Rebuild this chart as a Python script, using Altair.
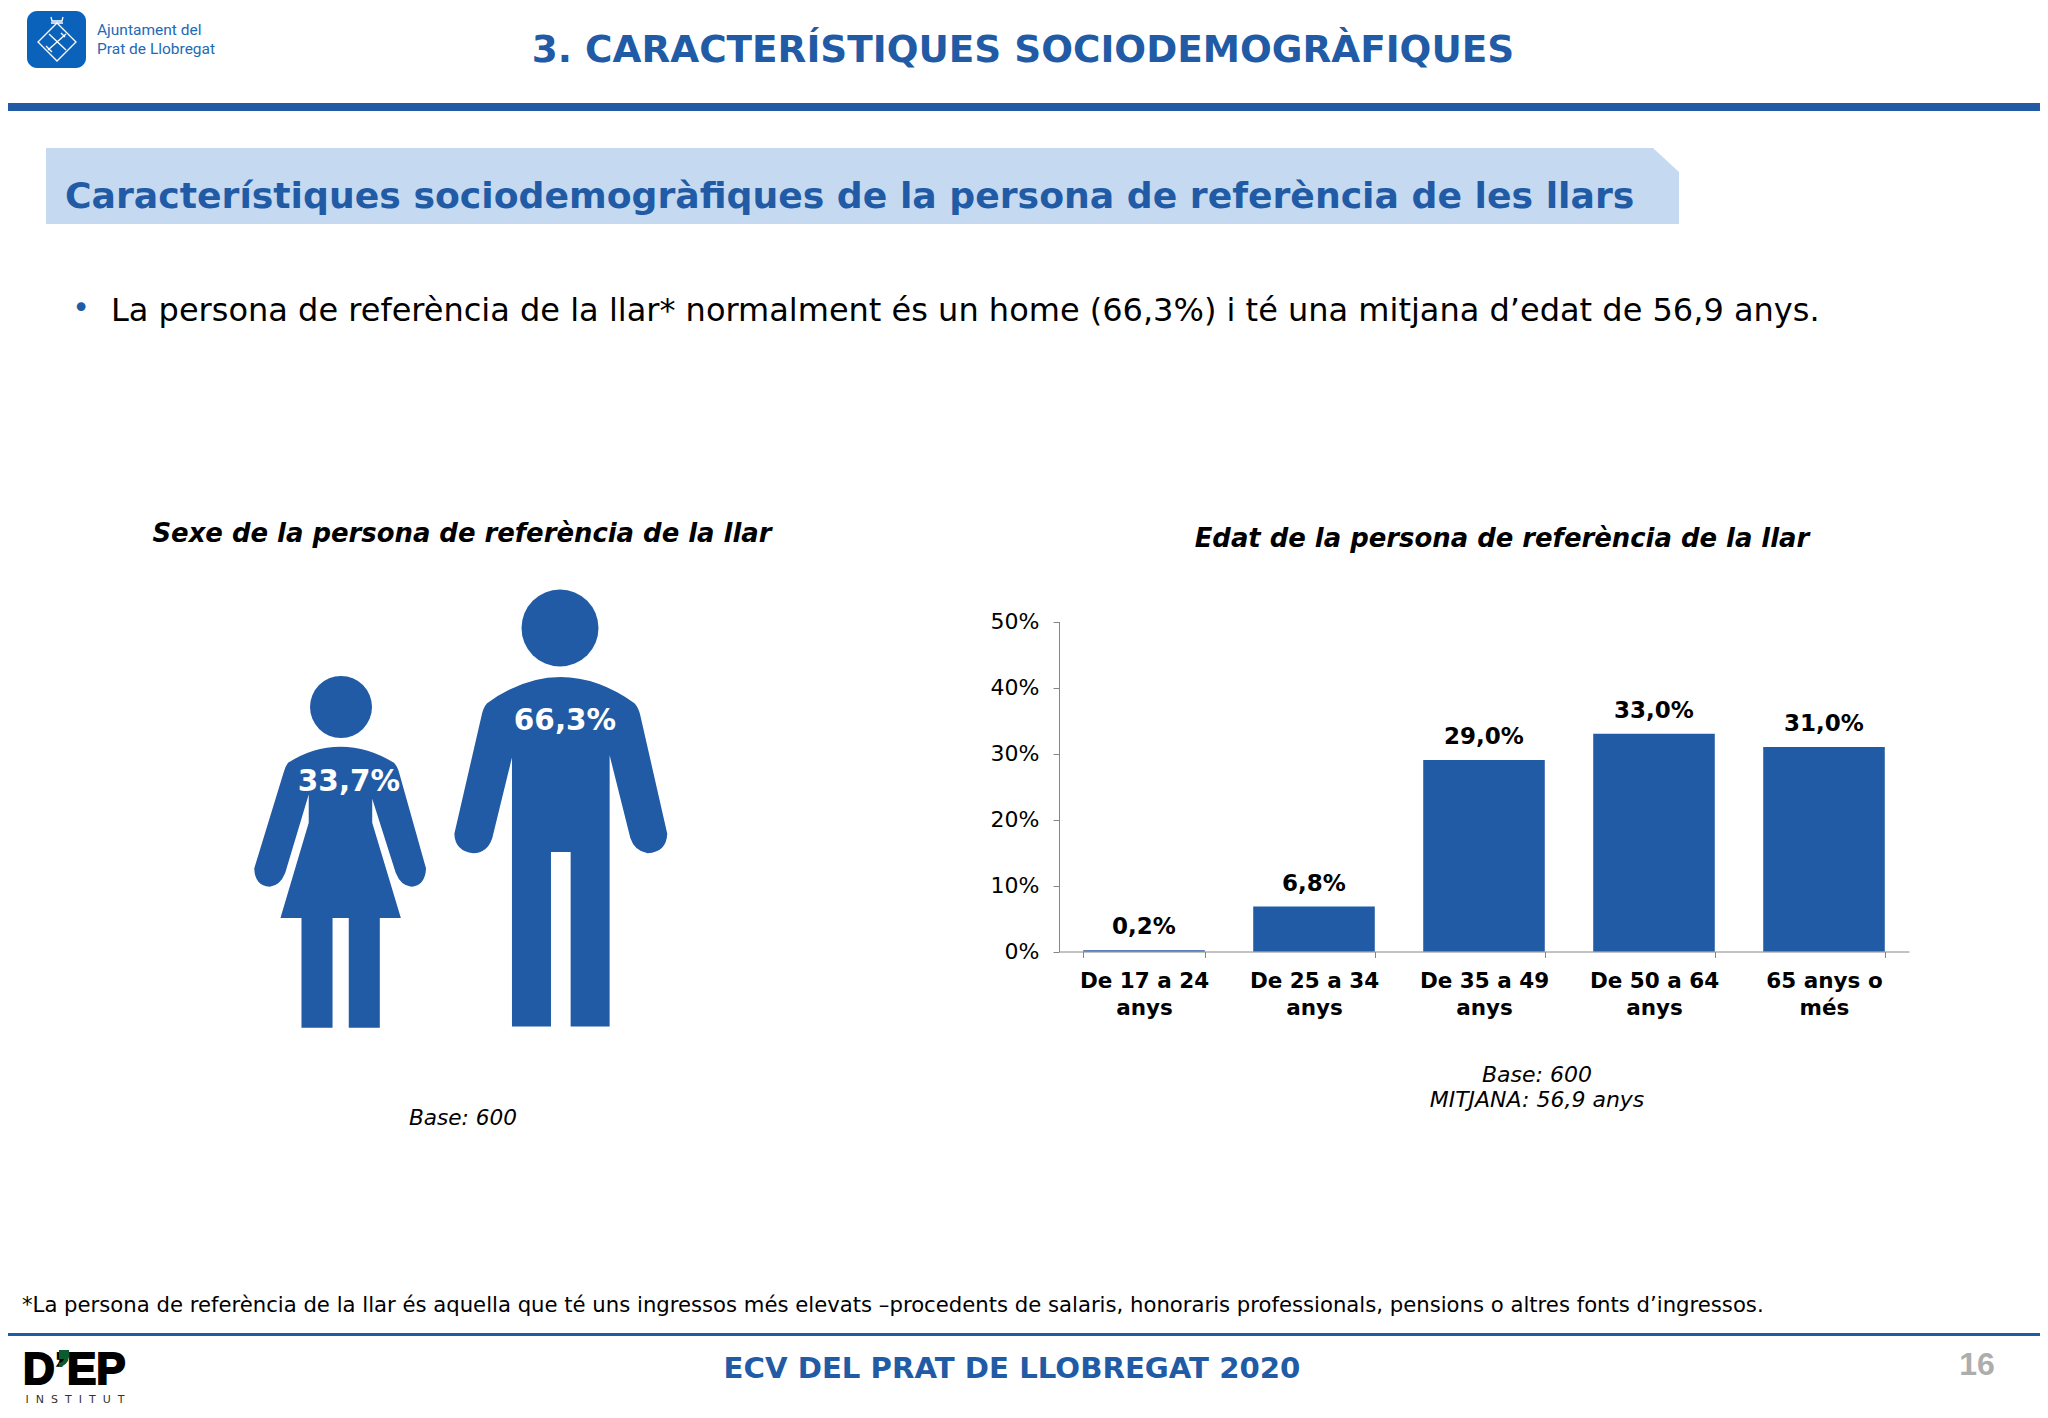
import re
import altair as alt
import pandas as pd

W, H = 2032, 1402
BLUE = "#215BA5"
DV = "DejaVu Sans"

age_groups = ["De 17 a 24 anys", "De 25 a 34 anys", "De 35 a 49 anys", "De 50 a 64 anys", "65 anys o més"]
age_values = [0.2, 6.8, 29.0, 33.0, 31.0]
sex_labels = ["33,7%", "66,3%"]
y_ticks = [0, 10, 20, 30, 40, 50]

TITLE = "3. CARACTERÍSTIQUES SOCIODEMOGRÀFIQUES"
BANNER = "Característiques sociodemogràfiques de la persona de referència de les llars"
BULLET = "La persona de referència de la llar* normalment és un home (66,3%) i té una mitjana d’edat de 56,9 anys."
LEFT_TITLE = "Sexe de la persona de referència de la llar"
RIGHT_TITLE = "Edat de la persona de referència de la llar"
FOOTNOTE = "*La persona de referència de la llar és aquella que té uns ingressos més elevats –procedents de salaris, honoraris professionals, pensions o altres fonts d’ingressos."
FOOTER = "ECV DEL PRAT DE LLOBREGAT 2020"
INSTITUT = "\u00a0\u00a0".join("INSTITUT")

DUMMY = alt.Data(values=[{"k": 0}])


def mapped(path, fx, fy):
    nums = iter(re.findall(r"[A-Za-z]|-?[\d.]+", path))
    out = []
    for tok in nums:
        if tok.isalpha():
            out.append(tok)
        else:
            out.append(f"{fx(float(tok)):.2f} {fy(float(next(nums))):.2f}")
    return " ".join(out)


def page(path):
    return mapped(path, lambda v: v - 8, lambda v: v - 8)


def zoomed(path):
    return mapped(path, lambda v: 199 + v / 2.898 - 8, lambda v: 498.6 + v / 2.298 - 8)


def shape(path, fill=None, stroke=None, sw=0):
    kw = dict(shape=path, size=4, opacity=1)
    if fill:
        kw.update(filled=True, fill=fill, strokeWidth=0)
    else:
        kw.update(filled=False, stroke=stroke, strokeWidth=sw)
    return alt.Chart(DUMMY).mark_point(**kw).encode(x=alt.value(0), y=alt.value(0))


def rect(x0, y0, x1, y1, color, radius=0):
    return alt.Chart(DUMMY).mark_rect(color=color, cornerRadius=radius).encode(
        x=alt.value(x0 - 8), x2=alt.value(x1 - 8), y=alt.value(y0 - 8), y2=alt.value(y1 - 8))


def text(s, x, y, size, color="#000000", font=DV, weight="normal", style="normal", align="center", baseline="middle", **kw):
    return alt.Chart(DUMMY).mark_text(
        text=s, fontSize=size, color=color, font=font, fontWeight=weight, fontStyle=style,
        align=align, baseline=baseline, **kw).encode(x=alt.value(x - 8), y=alt.value(y - 8))


def head(cx, cy, d):
    return alt.Chart(DUMMY).mark_point(shape="circle", size=d * d, filled=True, fill=BLUE, opacity=1, strokeWidth=0).encode(
        x=alt.value(cx - 8), y=alt.value(cy - 8))


MAN = zoomed("M 835 470 Q 940 410 1048 410 Q 1155 410 1262 470 Q 1272 478 1278 495 L 1357 770 Q 1355 812 1300 815 "
             "Q 1262 810 1250 780 L 1190 590 L 1190 1213 L 1077 1213 L 1077 812 L 1020 812 L 1020 1213 L 907 1213 "
             "L 907 595 L 850 780 Q 835 815 795 815 Q 742 810 740 770 L 820 495 Q 825 478 835 470 Z")
WOMAN = zoomed("M 258 607 Q 330 570 410 570 Q 490 570 565 607 Q 575 615 580 630 L 658 850 Q 655 890 615 892 "
               "Q 585 890 570 860 L 502 690 L 502 745 L 585 964 L 524 964 L 524 1216 L 434 1216 L 434 964 L 387 964 "
               "L 387 1216 L 297 1216 L 297 964 L 236 964 L 318 745 L 318 680 L 250 860 Q 235 890 205 892 "
               "Q 162 890 160 850 L 245 630 Q 250 615 258 607 Z")
BANNER_SHAPE = page("M 46 148 L 1653 148 L 1679 172 L 1679 224 L 46 224 Z")
DIAMOND = page("M 57 23 L 76 42 L 57 61 L 38 42 Z")
KEYS = page("M 48 50 L 66 34 M 49 34 L 66 50 M 61 33 L 65 37 M 46 46 L 52 52")
CROWN = page("M 51 17 L 52 21 L 62 21 L 63 17 M 51 23 L 63 23")
APOSTROPHE = page("M 59 1350 L 69 1350 L 69 1357 Q 68 1365 59 1367 L 59 1363 Q 63 1362 64 1359 L 59 1359 Z")

df = pd.DataFrame({"group": age_groups, "value": age_values})
base = alt.Chart(df).encode(
    x=alt.X("group:N", sort=age_groups, title=None,
            scale=alt.Scale(range=[1051, 1901], paddingInner=0.285, paddingOuter=0.1425),
            axis=alt.Axis(orient="bottom", offset=-(H - 943.5), labelAngle=0, tickBand="extent", tickSize=6,
                          domainColor="#868686", tickColor="#868686", labelFont=DV, labelFontSize=21.5,
                          labelFontWeight="bold", labelColor="#000000", labelPadding=13, labelLineHeight=27,
                          labelExpr="[slice(datum.label,0,lastindexof(datum.label,' ')), slice(datum.label,lastindexof(datum.label,' ')+1)]")),
    y=alt.Y("value:Q", title=None,
            scale=alt.Scale(domain=[0, 50], range=[943.5, 613.5], nice=False),
            axis=alt.Axis(orient="left", offset=-1051, values=y_ticks, grid=False, tickSize=6,
                          domainColor="#868686", tickColor="#868686", labelFont=DV, labelFontSize=22,
                          labelColor="#000000", labelPadding=14, labelExpr="datum.value + '%'")),
)
bars = base.mark_bar(color=BLUE)
bar_labels = base.transform_calculate(lab="replace(format(datum.value,'.1f'),'.',',') + '%'").mark_text(
    font=DV, fontSize=23, fontWeight="bold", color="#000000", baseline="middle", dy=-23).encode(text="lab:N")

layers = [
    rect(0, 103, 2048, 111, BLUE),
    rect(0, 1333, 2048, 1336, BLUE),
    rect(27, 11, 86, 68, "#0B62BB", 10),
    shape(DIAMOND, stroke="#FFFFFF", sw=1.3),
    shape(KEYS, stroke="#FFFFFF", sw=1.3),
    shape(CROWN, stroke="#FFFFFF", sw=1.3),
    text("Ajuntament del", 97, 35, 15.5, "#1E6AB5", "Roboto", align="left", baseline="alphabetic"),
    text("Prat de Llobregat", 97, 54, 15.5, "#1E6AB5", "Roboto", align="left", baseline="alphabetic"),
    text(TITLE, 1023, 51.3, 37.4, BLUE, weight="bold"),
    shape(BANNER_SHAPE, fill="#C5D9F1"),
    text(BANNER, 65, 196.6, 36.2, BLUE, weight="bold", align="left"),
    text("•", 81, 309, 30, BLUE),
    text(BULLET, 111, 311, 32, align="left"),
    text(LEFT_TITLE, 462, 534, 25.9, weight="bold", style="italic"),
    text(RIGHT_TITLE, 1502, 539, 25.9, weight="bold", style="italic"),
    head(341, 707, 62),
    head(560, 628, 77),
    shape(WOMAN, fill=BLUE),
    shape(MAN, fill=BLUE),
    text(sex_labels[0], 349, 782, 29.5, "#FFFFFF", weight="bold"),
    text(sex_labels[1], 565, 721, 29.5, "#FFFFFF", weight="bold"),
    text("Base: 600", 463, 1119, 21.6, style="italic"),
    bars,
    bar_labels,
    text("Base: 600", 1537, 1075, 22, style="italic"),
    text("MITJANA: 56,9 anys", 1537, 1100, 22, style="italic"),
    text(FOOTNOTE, 22, 1306, 21.2, align="left"),
    text("D’EP", 23, 1384, 44, font="Liberation Sans", weight="bold", align="left", baseline="alphabetic",
         stroke="#000000", strokeWidth=2),
    shape(APOSTROPHE, fill="#0D5C2F"),
    text(INSTITUT, 75, 1400, 11, "#333333"),
    text(FOOTER, 1012, 1369, 29.2, BLUE, weight="bold"),
    text("16", 1977, 1365, 32, "#ADADAD", font="Liberation Sans", weight="bold"),
]

chart = alt.layer(*layers).properties(
    width=W, height=H, padding=0, autosize=alt.AutoSizeParams(type="none"), background="#FFFFFF"
).configure_view(stroke=None)

chart.save("out.html", embed_options={"renderer": "svg", "actions": False})
